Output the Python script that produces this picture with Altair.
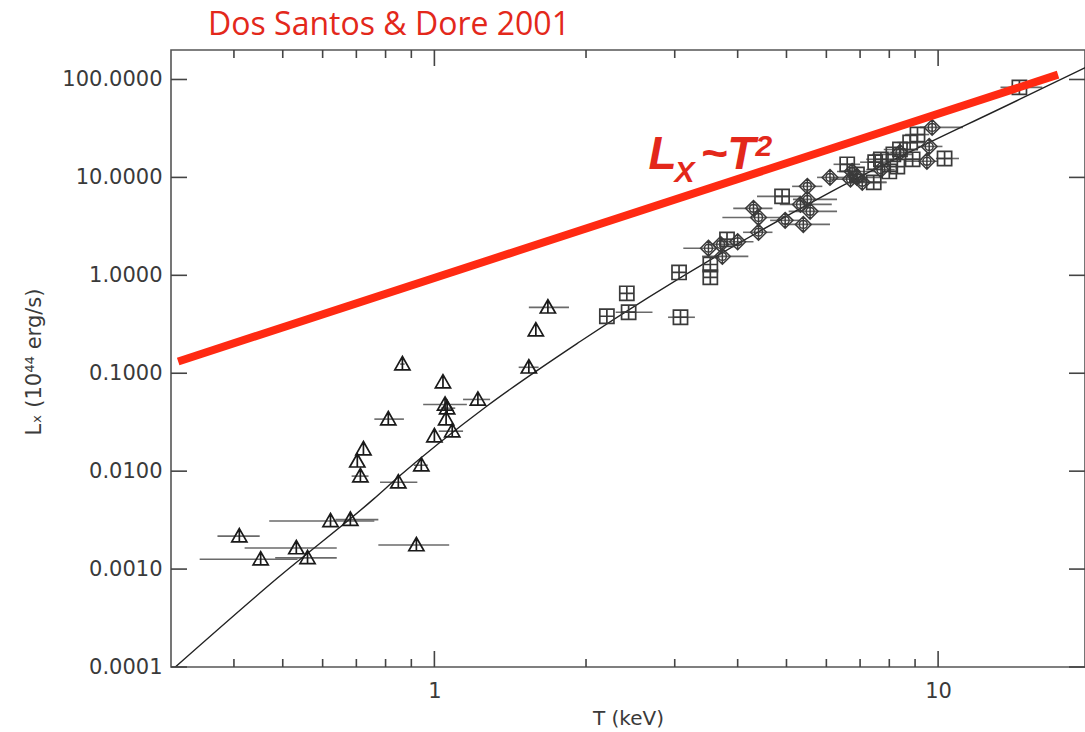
import altair as alt
import pandas as pd

# ---------------- data ----------------
# Triangles (low-T groups)
tri_T   = [0.864, 1.04, 1.22, 1.05, 1.06, 0.81, 1.055, 1.085, 1.00, 0.723, 0.703, 0.713,
           0.942, 0.848, 0.622, 0.681, 0.41, 0.532, 0.452, 0.56, 0.921, 1.68, 1.59, 1.54]
tri_L   = [0.124, 0.081, 0.054, 0.048, 0.044, 0.034, 0.034, 0.0256, 0.0228, 0.0168, 0.0126, 0.0089,
           0.0115, 0.0077, 0.0031, 0.0032, 0.00217, 0.00164, 0.00126, 0.0013, 0.00176, 0.471, 0.275, 0.115]
tri_Tlo = [0.855, 1.04, 1.14, 0.95, 1.03, 0.76, 1.055, 1.02, 1.00, 0.723, 0.703, 0.685,
           0.91, 0.78, 0.47, 0.636, 0.371, 0.42, 0.342, 0.483, 0.774, 1.54, 1.59, 1.47]
tri_Thi = [0.873, 1.04, 1.29, 1.16, 1.10, 0.87, 1.055, 1.14, 1.00, 0.723, 0.703, 0.74,
           0.97, 0.925, 0.76, 0.774, 0.45, 0.64, 0.535, 0.64, 1.07, 1.85, 1.59, 1.61]

# Squares
sq_T   = [2.2, 2.41, 2.43, 3.08, 3.06, 3.53, 3.53, 3.81, 4.9, 6.6, 7.45, 7.5, 7.7, 8.15,
          8.4, 8.8, 9.1, 10.3, 8.9, 8.3, 8.0, 14.5, 6.9]
sq_L   = [0.382, 0.655, 0.42, 0.373, 1.07, 0.955, 1.29, 2.33, 6.4, 13.6, 8.9, 14.3, 15.3, 17.2,
          19.3, 22.7, 27.4, 15.6, 15.3, 12.9, 11.5, 83.0, 10.7]
sq_Tlo = [2.2, 2.41, 2.29, 2.91, 3.06, 3.53, 3.53, 3.7, 4.37, 6.2, 7.0, 7.0, 7.2, 7.4,
          7.8, 8.3, 8.6, 9.9, 8.5, 8.3, 8.0, 13.3, 6.6]
sq_Thi = [2.2, 2.41, 2.71, 3.29, 3.06, 3.53, 3.53, 3.9, 5.33, 7.0, 7.9, 8.0, 8.3, 8.9,
          9.0, 9.4, 9.6, 11.0, 9.3, 8.3, 8.0, 16.1, 7.2]

# Diamonds
dia_T   = [3.5, 3.7, 3.73, 4.0, 4.4, 4.3, 4.4, 4.97, 5.5, 5.33, 5.5, 5.57, 5.4, 6.1, 6.75,
           6.9, 7.07, 6.7, 9.73, 9.6, 9.5, 8.4, 7.7]
dia_L   = [1.89, 2.07, 1.56, 2.2, 2.75, 4.83, 3.9, 3.64, 8.1, 5.3, 5.97, 4.5, 3.31, 10.0, 11.5,
           10.0, 8.9, 9.6, 32.4, 20.7, 14.6, 18.0, 12.0]
dia_Tlo = [3.12, 3.5, 3.4, 3.7, 4.10, 3.92, 3.73, 4.64, 5.13, 4.85, 5.15, 5.05, 4.95, 5.75, 6.3,
           6.6, 6.7, 6.1, 9.2, 9.1, 8.6, 8.0, 7.2]
dia_Thi = [3.64, 4.1, 4.2, 4.3, 4.69, 4.69, 4.86, 5.32, 5.89, 6.15, 6.3, 6.3, 6.1, 6.6, 7.5,
           7.7, 7.9, 7.2, 11.2, 10.2, 10.0, 8.9, 8.2]

# Black model curve
fit_T = [0.306, 0.488, 0.757, 0.848, 1.27, 1.95, 6.1, 14.5, 19.6]
fit_L = [0.0001, 0.00081, 0.00518, 0.0087, 0.046, 0.212, 7.03, 62.5, 132.0]

# Red  Lx ~ T^2 line
red_T = [0.31, 17.3]
red_L = [0.132, 112.0]

# Axis ticks
x_major = [1, 10]
x_minor = [0.4, 0.5, 0.6, 0.7, 0.8, 0.9, 2, 3, 4, 5, 6, 7, 8, 9]
y_major = [0.0001, 0.001, 0.01, 0.1, 1, 10, 100]

# Annotation anchor (data coordinates)
ann_T = [2.66]
ann_L = [12.1]

# ---------------- chart ----------------
W, H = 914, 617
RED = "#ff2a12"
TXT_RED = "#e3281b"
INK = "#3a3a3a"

xs = alt.Scale(type="log", domain=[0.3, 19.57])
ys = alt.Scale(type="log", domain=[0.0001, 200])

x_axis = alt.Axis(values=x_major, format=".0f", ticks=False, tickSize=0, domain=False, grid=False,
                  labelFont="DejaVu Sans", labelFontSize=21, labelColor=INK, labelPadding=13,
                  title="T (keV)", titleFont="DejaVu Sans", titleFontSize=20, titleFontWeight="normal",
                  titleColor=INK, titleX=457, titleY=51, titleBaseline="middle", titleAlign="center")
y_axis = alt.Axis(values=y_major, format=".4f", ticks=False, tickSize=0, domain=False, grid=False,
                  labelFont="DejaVu Sans", labelFontSize=21, labelColor=INK, labelPadding=9,
                  title=None)


def X(f):
    return alt.X(f"{f}:Q", scale=xs, axis=x_axis)


def Y(f):
    return alt.Y(f"{f}:Q", scale=ys, axis=y_axis)


tri_df = pd.DataFrame({"T": tri_T, "L": tri_L, "lo": tri_Tlo, "hi": tri_Thi})
sq_df = pd.DataFrame({"T": sq_T, "L": sq_L, "lo": sq_Tlo, "hi": sq_Thi})
dia_df = pd.DataFrame({"T": dia_T, "L": dia_L, "lo": dia_Tlo, "hi": dia_Thi})
fit_df = pd.DataFrame({"T": fit_T, "L": fit_L})
red_df = pd.DataFrame({"T": red_T, "L": red_L})
ann_df = pd.DataFrame({"T": ann_T, "L": ann_L})

TRI_SHAPE = "M0,-1L1,0.75L-1,0.75Z M0,-1L0,0.75"
SQ_SHAPE = "M-1,-1L1,-1L1,1L-1,1Z M-1,0L1,0 M0,-1L0,1"
DIA_SHAPE = ("M0,-1L1,0L0,1L-1,0Z M-0.5,0A0.5,0.5,0,1,0,0.5,0A0.5,0.5,0,1,0,-0.5,0 M0,-1L0,1")

layers = []

# error bars
for df in (tri_df, sq_df, dia_df):
    layers.append(alt.Chart(df).mark_rule(color="#6a6a6a", strokeWidth=1.6).encode(
        x=X("lo"), x2="hi:Q", y=Y("L")))

# model curve
layers.append(alt.Chart(fit_df).mark_line(color="#222222", strokeWidth=1.4, interpolate="monotone",
                                          clip=True).encode(x=X("T"), y=Y("L")))

# symbols
layers.append(alt.Chart(tri_df).mark_point(shape=TRI_SHAPE, size=230, filled=False, color="#1a1a1a",
                                           strokeWidth=1.7, opacity=1).encode(x=X("T"), y=Y("L")))
layers.append(alt.Chart(sq_df).mark_point(shape=SQ_SHAPE, size=200, filled=False, color="#3a3a3a",
                                          strokeWidth=1.7, opacity=1).encode(x=X("T"), y=Y("L")))
layers.append(alt.Chart(dia_df).mark_point(shape=DIA_SHAPE, size=250, filled=False, color="#3a3a3a",
                                           strokeWidth=1.5, opacity=1).encode(x=X("T"), y=Y("L")))

# red line
layers.append(alt.Chart(red_df).mark_line(color=RED, strokeWidth=8, strokeCap="butt").encode(
    x=X("T"), y=Y("L")))

# inward axis ticks
xmaj_df = pd.DataFrame({"T": x_major})
xmin_df = pd.DataFrame({"T": x_minor})
ymaj_df = pd.DataFrame({"L": y_major})
TICK = dict(color="#444444", strokeWidth=1.6)
layers.append(alt.Chart(xmaj_df).mark_rule(**TICK).encode(x=X("T"), y=alt.value(H), y2=alt.value(H - 16)))
layers.append(alt.Chart(xmin_df).mark_rule(**TICK).encode(x=X("T"), y=alt.value(H), y2=alt.value(H - 8)))
layers.append(alt.Chart(xmaj_df).mark_rule(**TICK).encode(x=X("T"), y=alt.value(0), y2=alt.value(16)))
layers.append(alt.Chart(xmin_df).mark_rule(**TICK).encode(x=X("T"), y=alt.value(0), y2=alt.value(8)))
layers.append(alt.Chart(ymaj_df).mark_rule(**TICK).encode(y=Y("L"), x=alt.value(0), x2=alt.value(16)))
layers.append(alt.Chart(ymaj_df).mark_rule(**TICK).encode(y=Y("L"), x=alt.value(W), x2=alt.value(W - 16)))

# Lx ~ T^2 annotation
ANN = dict(font="Liberation Sans", fontWeight="bold", fontStyle="italic", color=TXT_RED,
           align="left", baseline="alphabetic")
layers.append(alt.Chart(ann_df).mark_text(text="L", fontSize=46, **ANN).encode(x=X("T"), y=Y("L")))
layers.append(alt.Chart(ann_df).mark_text(text="X", fontSize=30, dx=26, dy=13, **ANN).encode(x=X("T"), y=Y("L")))
layers.append(alt.Chart(ann_df).mark_text(text="~T", fontSize=46, dx=52, **ANN).encode(x=X("T"), y=Y("L")))
layers.append(alt.Chart(ann_df).mark_text(text="2", fontSize=30, dx=107, dy=-13, **ANN).encode(x=X("T"), y=Y("L")))

# y-axis title (rotated)
layers.append(alt.Chart(alt.Data(values=[{}])).mark_text(
    text="Lₓ (10⁴⁴ erg/s)", font="DejaVu Sans", fontSize=21, color=INK, angle=270,
    align="center", baseline="middle").encode(x=alt.value(-136), y=alt.value(312)))

# heading
layers.append(alt.Chart(alt.Data(values=[{}])).mark_text(
    text="Dos Santos & Dore 2001", font="Open Sans", fontSize=32, color=TXT_RED,
    align="center", baseline="middle").encode(x=alt.value(218), y=alt.value(-25)))

chart = alt.layer(*layers).properties(
    width=W, height=H,
    padding={"left": 171, "top": 50, "right": 0, "bottom": 65},
    autosize=alt.AutoSizeParams(type="none"),
    background="white",
).configure_view(stroke="#555555", strokeWidth=1.6)

chart.save("out.html", embed_options={"renderer": "svg", "actions": False})
